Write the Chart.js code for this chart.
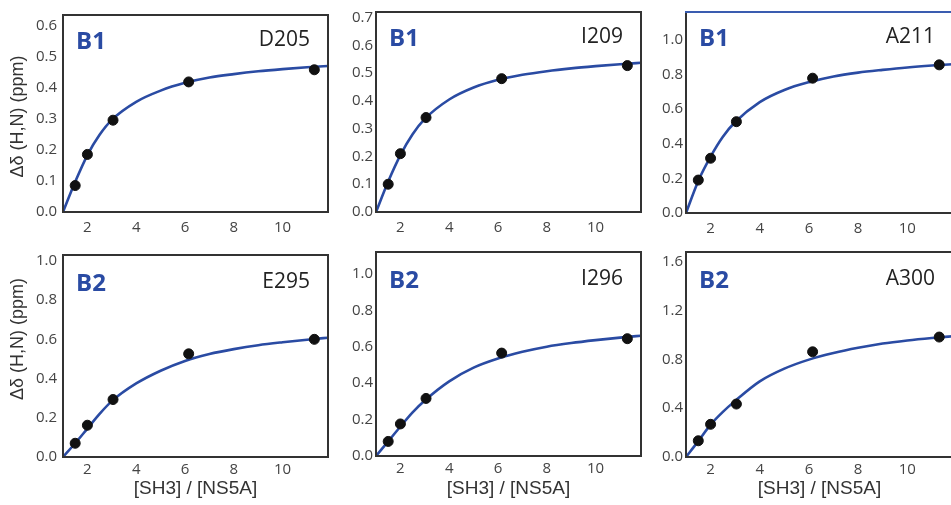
<!DOCTYPE html>
<html>
<head>
<meta charset="utf-8">
<script src="https://cdn.jsdelivr.net/npm/chart.js@4.4.0/dist/chart.umd.min.js"></script>
<style>
html, body { margin: 0; padding: 0; background: #fff; overflow: hidden; }
#wrap { position: relative; width: 951px; height: 505px; overflow: hidden; }
canvas { position: absolute; }
</style>
</head>
<body>
<div id="wrap">
<canvas id="c0"></canvas>
<canvas id="c1"></canvas>
<canvas id="c2"></canvas>
<canvas id="c3"></canvas>
<canvas id="c4"></canvas>
<canvas id="c5"></canvas>
</div>
<script>
// ---- data ----
var groups = ['B1', 'B1', 'B1', 'B2', 'B2', 'B2'];
var residues = ['D205', 'I209', 'A211', 'E295', 'I296', 'A300'];

// titration points: [SH3]/[NS5A] ratio
var ratioPts = [1.5, 2, 3.05, 6.15, 11.3];
var shiftD205 = [0.085, 0.185, 0.295, 0.418, 0.457];
var shiftI209 = [0.10, 0.21, 0.34, 0.48, 0.527];
var shiftA211 = [0.19, 0.316, 0.527, 0.778, 0.855];
var shiftE295 = [0.07, 0.162, 0.293, 0.526, 0.60];
var shiftI296 = [0.08, 0.176, 0.316, 0.565, 0.644];
var shiftA300 = [0.133, 0.268, 0.434, 0.862, 0.983];

// fitted curves
var fitX = [1, 1.5, 2, 2.5, 3, 4, 5, 6, 7, 8, 9, 10, 11, 12];
var fitD205 = [0, 0.097, 0.183, 0.248, 0.296, 0.354, 0.39, 0.415, 0.432, 0.443, 0.452, 0.459, 0.465, 0.47];
var fitI209 = [0, 0.11, 0.205, 0.28, 0.335, 0.405, 0.448, 0.476, 0.494, 0.507, 0.517, 0.525, 0.532, 0.538];
var fitA211 = [0, 0.185, 0.325, 0.44, 0.525, 0.64, 0.71, 0.755, 0.788, 0.81, 0.826, 0.84, 0.851, 0.86];
var fitE295 = [0, 0.07, 0.145, 0.22, 0.285, 0.375, 0.44, 0.49, 0.525, 0.55, 0.57, 0.585, 0.598, 0.61];
var fitI296 = [0, 0.08, 0.162, 0.24, 0.305, 0.41, 0.485, 0.535, 0.572, 0.6, 0.62, 0.636, 0.65, 0.662];
var fitA300 = [0, 0.13, 0.265, 0.37, 0.46, 0.62, 0.724, 0.798, 0.852, 0.895, 0.93, 0.955, 0.975, 0.992];

var xTicks = [2, 4, 6, 8, 10];
var yTicksA = [0, 0.1, 0.2, 0.3, 0.4, 0.5, 0.6];
var yTicksB = [0, 0.1, 0.2, 0.3, 0.4, 0.5, 0.6, 0.7];
var yTicksC = [0, 0.2, 0.4, 0.6, 0.8, 1.0];
var yTicksD = [0, 0.4, 0.8, 1.2, 1.6];
var yMaxes = [0.633, 0.72, 1.16, 1.03, 1.12, 1.68];
var xMin = 1, xMax = 11.86;

var allShifts = [shiftD205, shiftI209, shiftA211, shiftE295, shiftI296, shiftA300];
var allFits = [fitD205, fitI209, fitA211, fitE295, fitI296, fitA300];
var allYTicks = [yTicksA, yTicksB, yTicksC, yTicksC, yTicksC, yTicksD];

// ---- layout of the six panels ----
var layout = [
    {left: 0,   top: 0,   w: 334, h: 240, yw: 63, xh: 28, pt: 6, tickPad: 7, titleDy: 3},
    {left: 334, top: 0,   w: 313, h: 240, yw: 42, xh: 28, pt: 6, tickPad: 7},
    {left: 647, top: 0,   w: 312, h: 241, yw: 39, xh: 28, pt: 6, tickPad: 7},
    {left: 0,   top: 240, w: 334, h: 265, yw: 63, xh: 48, pt: 7, tickPad: 4, titleDy: -17},
    {left: 334, top: 240, w: 313, h: 265, yw: 42, xh: 49, pt: 8, tickPad: 4},
    {left: 647, top: 240, w: 312, h: 265, yw: 39, xh: 48, pt: 8, tickPad: 4}
];

var blue = '#2a4ba3';
var tickFont = {family: "'Open Sans', 'Liberation Sans', sans-serif", size: 15};

// draws frame, the two panel labels and the y title
var panelText = {
    id: 'panelText',
    afterDatasetsDraw: function(chart, args, opts) {
        var ctx = chart.ctx, a = chart.chartArea;
        ctx.save();
        ctx.lineWidth = 2;
        ctx.strokeStyle = '#333';
        ctx.strokeRect(a.left, a.top, a.right - a.left, a.bottom - a.top);
        if (opts.topColor) {
            ctx.strokeStyle = opts.topColor;
            ctx.beginPath();
            ctx.moveTo(a.left - 1, a.top);
            ctx.lineTo(a.right + 1, a.top);
            ctx.stroke();
        }
        ctx.textBaseline = 'alphabetic';
        ctx.fillStyle = blue;
        ctx.font = "bold 24px 'Open Sans', 'Liberation Sans', sans-serif";
        ctx.textAlign = 'left';
        ctx.fillText(opts.group, a.left + 13, a.top + opts.dy);
        ctx.fillStyle = '#222';
        ctx.font = "21px 'Open Sans', 'Liberation Sans', sans-serif";
        ctx.textAlign = 'right';
        ctx.fillText(opts.residue, a.right - 18, a.top + opts.dy - 3);

        if (opts.yTitle) {
            ctx.translate(18, (a.top + a.bottom) / 2 + opts.titleDy);
            ctx.rotate(-Math.PI / 2);
            ctx.textAlign = 'center';
            ctx.textBaseline = 'middle';
            ctx.fillStyle = '#333';
            ctx.font = "18px 'Liberation Sans', sans-serif";
            ctx.fillText(opts.yTitle, 0, 0);
        }
        ctx.restore();
    }
};

function makePanel(i) {
    var L = layout[i];
    var canvas = document.getElementById('c' + i);
    canvas.width = L.w;
    canvas.height = L.h;
    canvas.style.left = L.left + 'px';
    canvas.style.top = L.top + 'px';

    var points = ratioPts.map(function(x, k) { return {x: x, y: allShifts[i][k]}; });
    var curve = fitX.map(function(x, k) { return {x: x, y: allFits[i][k]}; });
    var yTicks = allYTicks[i];
    var leftCol = (i % 3 === 0);
    var bottomRow = (i >= 3);

    new Chart(canvas.getContext('2d'), {
        type: 'scatter',
        data: {
            datasets: [{
                data: points,
                pointRadius: 5,
                pointHoverRadius: 5,
                pointBackgroundColor: '#111',
                pointBorderColor: '#111',
                showLine: false
            }, {
                data: curve,
                showLine: true,
                pointRadius: 0,
                borderColor: blue,
                borderWidth: 2.6,
                cubicInterpolationMode: 'monotone'
            }]
        },
        options: {
            responsive: false,
            animation: false,
            devicePixelRatio: 1,
            layout: {padding: {top: L.pt, right: L.w - L.yw - 269, bottom: 0, left: 0}},
            plugins: {
                legend: {display: false},
                tooltip: {enabled: false},
                panelText: {
                    group: groups[i],
                    residue: residues[i],
                    dy: bottomRow ? 36 : 34,
                    topColor: i === 2 ? '#3a5cb0' : null,
                    yTitle: leftCol ? 'Δδ (H,N) (ppm)' : null,
                    titleDy: L.titleDy || 0
                }
            },
            scales: {
                x: {
                    type: 'linear',
                    min: xMin,
                    max: xMax,
                    grid: {display: false, drawTicks: false},
                    border: {display: false},
                    afterBuildTicks: function(s) { s.ticks = xTicks.map(function(v) { return {value: v}; }); },
                    afterFit: function(s) { s.height = L.xh; },
                    ticks: {
                        autoSkip: false,
                        maxRotation: 0,
                        padding: L.tickPad,
                        color: '#444',
                        font: tickFont
                    },
                    title: {
                        display: bottomRow,
                        text: '[SH3] / [NS5A]',
                        color: '#333',
                        font: {family: "'Liberation Sans', sans-serif", size: 19},
                        padding: {top: 0, bottom: 5}
                    }
                },
                y: {
                    type: 'linear',
                    min: 0,
                    max: yMaxes[i],
                    grid: {display: false, drawTicks: false},
                    border: {display: false},
                    afterBuildTicks: function(s) { s.ticks = yTicks.map(function(v) { return {value: v}; }); },
                    afterFit: function(s) { s.width = L.yw; },
                    ticks: {
                        autoSkip: false,
                        padding: leftCol ? 6 : 3,
                        color: '#444',
                        font: tickFont,
                        callback: function(v) { return Number(v).toFixed(1); }
                    }
                }
            }
        },
        plugins: [panelText]
    });
}

for (var i = 0; i < 6; i++) {
    makePanel(i);
}
</script>
</body>
</html>
